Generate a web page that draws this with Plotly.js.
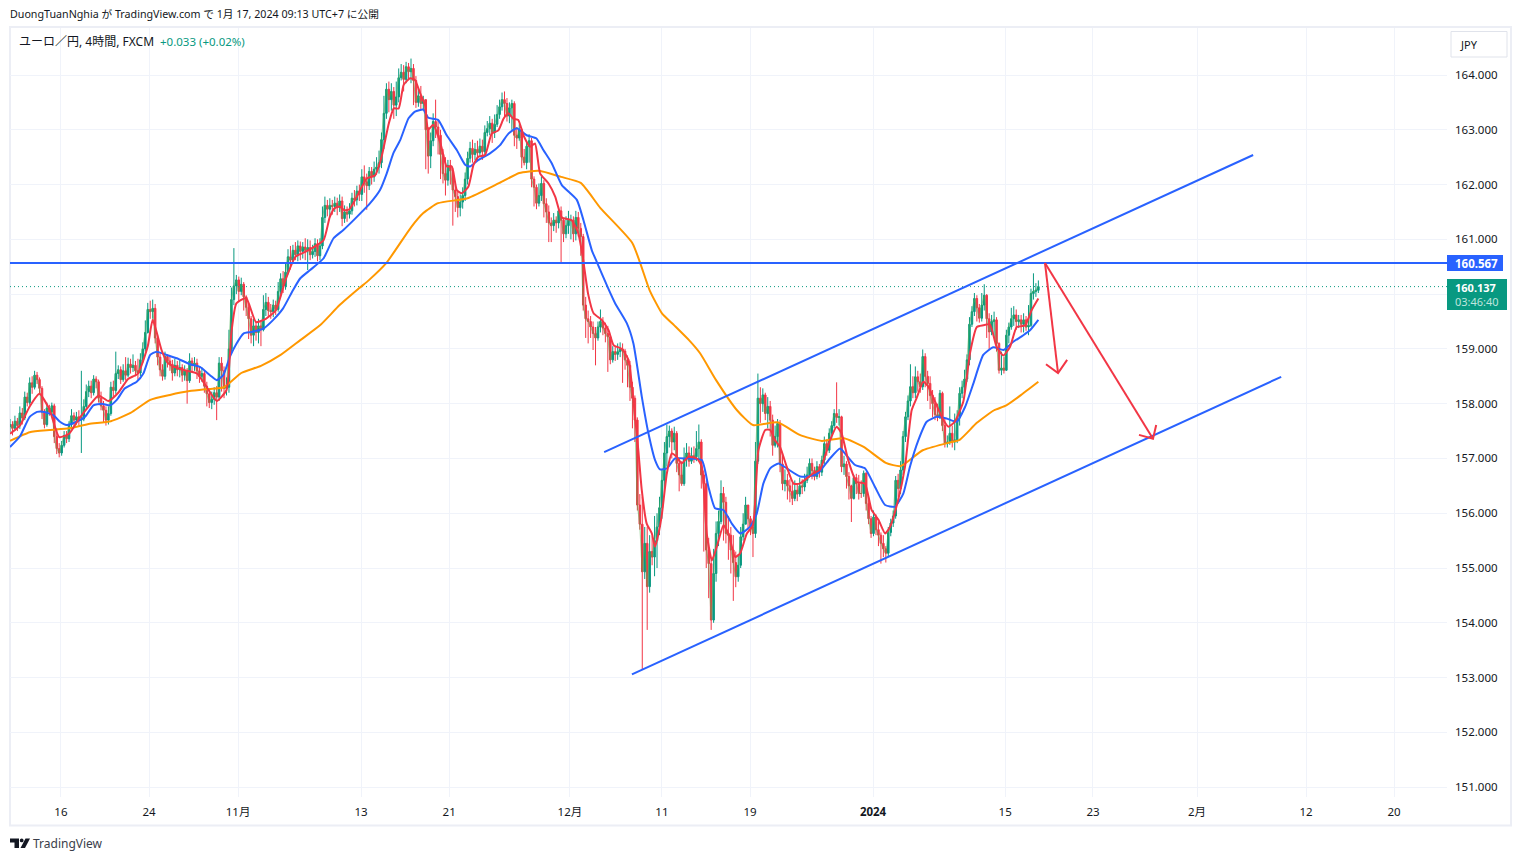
<!DOCTYPE html>
<html><head><meta charset="utf-8">
<script src="https://cdn.plot.ly/plotly-3.0.1.min.js"></script>
<style>html,body{margin:0;padding:0;background:#fff}#c{width:1521px;height:861px}</style></head>
<body><div id="c"></div>
<script>
const closes=[157.62,157.55,157.68,157.60,157.83,157.74,158.12,158.02,158.38,158.30,
158.52,158.44,158.28,157.85,157.62,157.92,157.85,157.96,157.40,157.18,
157.10,157.24,157.42,157.36,157.62,157.78,157.70,157.76,157.70,157.72,
157.95,158.22,158.32,158.20,158.45,158.40,158.10,157.96,157.88,157.70,
157.82,158.30,158.24,158.55,158.62,158.44,158.60,158.52,158.72,158.66,
158.70,158.60,158.56,158.80,159.00,159.30,159.72,159.68,159.74,159.20,
158.85,158.62,158.50,158.86,158.78,158.72,158.56,158.70,158.62,158.66,
158.52,158.60,158.42,158.78,158.70,158.74,158.60,158.50,158.55,158.32,
158.18,158.02,158.08,158.20,158.12,158.74,158.60,158.28,158.30,159.00,
159.90,160.15,160.26,160.05,160.18,159.95,159.76,159.55,159.25,159.42,
159.30,159.42,159.35,159.72,159.85,159.70,159.68,159.80,159.72,160.05,
160.28,160.15,160.40,160.68,160.62,160.80,160.72,160.88,160.78,160.86,
160.80,160.85,160.72,160.78,160.92,160.70,160.88,161.40,161.62,161.55,
161.62,161.60,161.66,161.58,161.70,161.38,161.50,161.46,161.52,161.75,
161.72,161.88,161.82,162.14,162.05,161.98,162.24,162.14,162.28,162.32,
162.40,162.82,163.30,163.74,163.55,163.70,163.45,163.60,163.95,164.05,
163.92,164.15,164.06,164.12,163.90,163.50,163.62,163.48,163.55,163.00,
162.52,162.80,163.15,163.05,162.90,162.55,162.20,162.08,162.35,162.25,
161.90,161.78,161.58,161.68,161.80,162.10,162.48,162.66,162.55,162.64,
162.58,162.70,162.60,162.95,163.02,163.12,162.95,163.10,163.28,163.42,
163.55,163.48,163.25,163.40,163.48,162.90,162.85,163.00,162.50,162.40,
162.70,162.80,162.10,161.95,161.66,161.80,162.02,161.65,161.50,161.30,
161.25,161.35,161.30,161.52,161.35,161.10,161.25,161.35,161.35,161.10,
161.40,161.20,161.05,159.80,159.55,159.50,159.40,159.28,159.20,159.40,
159.50,159.38,159.28,159.22,158.80,158.95,158.90,158.95,159.00,158.96,
158.80,158.70,158.30,158.10,157.70,156.15,155.80,154.93,155.45,154.66,
155.30,155.20,155.50,155.75,156.10,156.60,157.10,157.40,157.50,157.30,
157.46,156.91,156.70,156.54,157.00,157.10,156.95,157.05,157.03,157.18,
157.30,156.70,156.54,155.33,155.08,154.05,154.90,155.63,155.85,156.36,
156.20,155.63,155.60,155.33,155.10,154.84,155.05,155.57,155.80,156.15,
155.90,155.75,155.63,156.95,158.10,158.00,158.16,157.82,157.95,157.70,
157.24,157.40,157.64,156.90,156.54,156.60,156.50,156.40,156.27,156.42,
156.35,156.50,156.48,156.60,156.70,156.91,156.78,156.67,156.85,156.75,
156.97,157.27,157.15,157.46,157.60,157.82,157.75,157.76,156.85,156.90,
156.67,156.50,156.27,156.65,156.54,156.36,156.36,156.73,156.18,155.90,
155.63,155.93,155.70,155.60,155.45,155.35,155.27,155.65,155.82,155.95,
156.60,156.45,156.79,157.40,157.76,158.05,158.31,158.20,158.49,158.40,
158.31,158.86,158.50,158.37,158.15,158.00,157.80,157.76,158.19,157.60,
157.27,157.30,157.46,157.30,157.34,157.75,158.19,158.30,158.45,158.80,
159.45,159.68,159.92,159.75,159.56,159.80,159.98,159.55,159.31,159.50,
159.53,159.10,158.61,158.65,158.61,159.25,159.40,159.55,159.62,159.50,
159.53,159.45,159.53,159.40,159.43,160.01,160.05,160.07,160.137];
const opens=[157.58,157.62,157.55,157.68,157.60,157.83,157.74,158.12,158.02,158.38,
158.30,158.52,158.44,158.28,157.85,157.62,157.92,157.85,157.96,157.40,
157.18,157.10,157.24,157.42,157.36,157.62,157.78,157.70,157.76,157.70,
157.72,157.95,158.22,158.32,158.20,158.45,158.40,158.10,157.96,157.88,
157.70,157.82,158.30,158.24,158.55,158.62,158.44,158.60,158.52,158.72,
158.66,158.70,158.60,158.56,158.80,159.00,159.30,159.72,159.68,159.74,
159.20,158.85,158.62,158.50,158.86,158.78,158.72,158.56,158.70,158.62,
158.66,158.52,158.60,158.42,158.78,158.70,158.74,158.60,158.50,158.55,
158.32,158.18,158.02,158.08,158.20,158.12,158.74,158.60,158.28,158.30,
159.00,159.90,160.15,160.26,160.05,160.18,159.95,159.76,159.55,159.25,
159.42,159.30,159.42,159.35,159.72,159.85,159.70,159.68,159.80,159.72,
160.05,160.28,160.15,160.40,160.68,160.62,160.80,160.72,160.88,160.78,
160.86,160.80,160.85,160.72,160.78,160.92,160.70,160.88,161.40,161.62,
161.55,161.62,161.60,161.66,161.58,161.70,161.38,161.50,161.46,161.52,
161.75,161.72,161.88,161.82,162.14,162.05,161.98,162.24,162.14,162.28,
162.32,162.40,162.82,163.30,163.74,163.55,163.70,163.45,163.60,163.95,
164.05,163.92,164.15,164.06,164.12,163.90,163.50,163.62,163.48,163.55,
163.00,162.52,162.80,163.15,163.05,162.90,162.55,162.20,162.08,162.35,
162.25,161.90,161.78,161.58,161.68,161.80,162.10,162.48,162.66,162.55,
162.64,162.58,162.70,162.60,162.95,163.02,163.12,162.95,163.10,163.28,
163.42,163.55,163.48,163.25,163.40,163.48,162.90,162.85,163.00,162.50,
162.40,162.70,162.80,162.10,161.95,161.66,161.80,162.02,161.65,161.50,
161.30,161.25,161.35,161.30,161.52,161.35,161.10,161.25,161.35,161.35,
161.10,161.40,161.20,161.05,159.80,159.55,159.50,159.40,159.28,159.20,
159.40,159.50,159.38,159.28,159.22,158.80,158.95,158.90,158.95,159.00,
158.96,158.80,158.70,158.30,158.10,157.70,156.15,155.80,154.93,155.45,
154.66,155.30,155.20,155.50,155.75,156.10,156.60,157.10,157.40,157.50,
157.30,157.46,156.91,156.70,156.54,157.00,157.10,156.95,157.05,157.03,
157.18,157.30,156.70,156.54,155.33,155.08,154.05,154.90,155.63,155.85,
156.36,156.20,155.63,155.60,155.33,155.10,154.84,155.05,155.57,155.80,
156.15,155.90,155.75,155.63,156.95,158.10,158.00,158.16,157.82,157.95,
157.70,157.24,157.40,157.64,156.90,156.54,156.60,156.50,156.40,156.27,
156.42,156.35,156.50,156.48,156.60,156.70,156.91,156.78,156.67,156.85,
156.75,156.97,157.27,157.15,157.46,157.60,157.82,157.75,157.76,156.85,
156.90,156.67,156.50,156.27,156.65,156.54,156.36,156.36,156.73,156.18,
155.90,155.63,155.93,155.70,155.60,155.45,155.35,155.27,155.65,155.82,
155.95,156.60,156.45,156.79,157.40,157.76,158.05,158.31,158.20,158.49,
158.40,158.31,158.86,158.50,158.37,158.15,158.00,157.80,157.76,158.19,
157.60,157.27,157.30,157.46,157.30,157.34,157.75,158.19,158.30,158.45,
158.80,159.45,159.68,159.92,159.75,159.56,159.80,159.98,159.55,159.31,
159.50,159.53,159.10,158.61,158.65,158.61,159.25,159.40,159.55,159.62,
159.50,159.53,159.45,159.53,159.40,159.43,160.01,160.05,160.07];
const highs=[157.72,157.68,157.78,157.74,157.95,157.92,158.22,158.20,158.48,158.50,
158.60,158.58,158.48,158.32,157.90,158.02,157.98,158.02,158.00,157.55,
157.28,157.32,157.50,157.50,157.68,157.90,157.84,157.85,157.88,158.60,
158.08,158.35,158.42,158.42,158.52,158.50,158.44,158.22,158.05,157.95,
157.95,158.40,158.42,158.95,158.70,158.68,158.72,158.85,158.84,158.82,
158.90,158.78,158.82,158.92,159.12,159.52,159.84,159.88,159.90,159.82,
159.25,158.92,158.72,158.95,158.90,158.86,158.80,158.82,158.78,158.80,
158.72,158.70,158.65,158.92,158.84,158.85,158.82,158.68,158.66,158.60,
158.40,158.25,158.22,158.30,158.32,158.85,158.85,158.68,158.48,159.35,
160.12,160.84,160.35,160.32,160.30,160.22,159.98,159.82,159.60,159.55,
159.50,159.55,159.50,159.98,160.02,159.95,159.82,159.90,159.88,160.22,
160.38,160.42,160.55,160.82,160.88,160.90,160.95,160.98,160.96,160.95,
161.02,161.00,160.98,160.90,161.02,161.00,161.02,161.60,161.78,161.72,
161.75,161.72,161.78,161.76,161.82,161.78,161.62,161.60,161.66,161.85,
161.90,161.98,162.00,162.28,162.35,162.20,162.32,162.32,162.42,162.50,
162.62,162.95,163.62,163.85,163.88,163.85,163.78,163.88,164.12,164.20,
164.18,164.24,164.22,164.30,164.20,163.98,163.75,163.80,163.62,163.55,
163.05,162.95,163.30,163.55,163.18,163.00,162.65,162.50,162.45,162.45,
162.30,162.02,161.88,161.82,161.95,162.22,162.60,162.78,162.82,162.76,
162.80,162.84,162.82,163.08,163.16,163.25,163.20,163.28,163.45,163.55,
163.68,163.70,163.58,163.50,163.55,163.52,163.05,163.10,163.02,162.65,
162.78,162.92,162.85,162.15,162.00,162.02,162.15,162.08,161.75,161.62,
161.40,161.48,161.42,161.58,161.60,161.38,161.42,161.52,161.45,161.42,
161.52,161.50,161.30,161.10,159.95,159.70,159.60,159.50,159.40,159.50,
159.72,159.58,159.48,159.42,159.22,159.05,159.05,159.10,159.12,159.10,
159.00,158.88,158.78,158.40,158.15,157.75,156.35,156.30,155.75,155.75,
155.60,155.58,155.95,156.00,156.30,156.80,157.30,157.62,157.60,157.55,
157.58,157.50,157.00,156.95,157.20,157.28,157.22,157.20,157.22,157.50,
157.62,157.35,156.78,156.60,155.55,155.15,155.35,155.85,156.05,156.60,
156.48,156.30,155.95,155.75,155.60,155.30,155.25,155.75,156.00,156.30,
156.10,155.95,155.85,157.30,158.55,158.30,158.28,158.20,158.12,158.05,
157.80,157.60,157.72,157.70,157.05,156.80,156.72,156.62,156.55,156.60,
156.55,156.65,156.62,156.72,156.85,157.00,157.00,156.85,156.95,156.90,
157.05,157.40,157.35,157.55,157.68,157.90,158.39,157.90,157.78,157.05,
156.95,156.75,156.52,156.70,156.72,156.70,156.60,156.78,156.75,156.30,
155.95,156.05,155.98,155.85,155.65,155.60,155.40,155.75,155.90,156.05,
156.68,156.72,156.95,157.50,157.85,158.15,158.72,158.50,158.68,158.60,
158.55,158.99,158.92,158.60,158.50,158.25,158.12,158.00,158.25,158.22,
157.72,157.42,157.95,157.60,157.82,157.88,158.30,158.42,158.62,158.90,
159.58,159.78,160.02,159.98,159.82,160.02,160.18,160.00,159.65,159.62,
159.68,159.58,159.12,158.95,158.85,159.35,159.48,159.75,159.78,159.72,
159.62,159.62,159.65,159.60,159.80,160.10,160.38,160.20,160.25];
const lows=[157.48,157.42,157.50,157.50,157.54,157.62,157.70,157.95,157.98,158.18,
158.26,158.36,158.18,157.72,157.55,157.58,157.78,157.78,157.28,157.08,
157.02,157.05,157.20,157.28,157.30,157.55,157.58,157.62,157.60,157.10,
157.68,157.90,158.12,158.10,158.15,158.28,158.02,157.88,157.65,157.60,
157.62,157.78,158.12,158.18,158.45,158.36,158.40,158.42,158.48,158.55,
158.58,158.50,158.44,158.50,158.75,158.95,159.28,159.55,159.55,159.10,
158.70,158.50,158.42,158.44,158.66,158.60,158.42,158.50,158.50,158.48,
158.40,158.42,158.00,158.38,158.58,158.60,158.45,158.38,158.40,158.20,
157.95,157.92,157.90,157.98,157.70,158.05,158.22,158.10,158.15,158.20,
158.92,159.80,160.00,159.85,159.98,159.70,159.60,159.18,159.10,159.05,
159.15,159.10,159.05,159.32,159.60,159.58,159.55,159.58,159.62,159.68,
159.95,160.02,160.08,160.36,160.45,160.55,160.62,160.60,160.62,160.65,
160.62,160.44,160.62,160.65,160.68,160.60,160.62,160.82,161.30,161.42,
161.40,161.45,161.50,161.44,161.50,161.24,161.30,161.32,161.38,161.45,
161.60,161.62,161.70,161.70,161.85,161.54,161.90,162.00,162.05,162.18,
162.20,162.30,162.65,163.20,163.32,163.35,163.20,163.25,163.50,163.90,
163.70,163.85,163.92,163.85,163.45,163.40,163.42,163.38,163.35,162.28,
162.20,162.30,162.70,162.85,162.55,162.10,162.02,161.80,161.98,162.00,
161.25,161.50,161.40,161.42,161.56,161.70,162.00,162.40,162.40,162.45,
162.45,162.50,162.45,162.55,162.88,162.90,162.76,162.85,163.05,163.20,
163.35,163.22,163.15,163.12,163.00,162.70,162.65,162.80,162.30,162.35,
162.28,162.40,161.95,161.60,161.55,161.60,161.70,161.40,161.30,160.95,
160.95,161.15,161.12,161.20,160.56,160.95,161.02,161.10,161.00,160.95,
160.98,161.05,160.70,159.70,159.20,159.10,159.20,158.98,158.70,159.15,
159.30,159.25,159.12,158.58,158.72,158.75,158.78,158.80,158.85,158.38,
158.62,158.30,158.05,157.55,157.30,156.05,155.70,153.14,154.80,153.87,
154.55,155.05,154.85,155.00,155.60,155.90,156.45,156.85,157.20,157.00,
157.15,156.75,156.40,156.50,156.50,156.85,156.85,156.90,156.92,156.95,
156.95,156.45,155.30,155.00,154.45,153.87,154.00,154.75,155.40,155.80,
155.50,155.45,155.15,154.90,154.40,154.65,154.75,155.00,155.50,155.80,
155.70,155.60,155.20,155.55,156.90,157.65,157.85,157.70,157.55,157.40,
157.05,157.20,157.20,156.75,156.42,156.40,156.25,156.20,156.15,156.22,
156.22,156.30,156.35,156.40,156.55,156.65,156.62,156.60,156.62,156.65,
156.68,156.90,157.05,157.10,157.35,157.55,157.65,157.60,156.75,156.70,
156.45,156.25,155.84,156.25,156.35,156.25,156.28,156.30,156.05,155.80,
155.55,155.58,155.60,155.40,155.08,155.20,155.10,155.20,155.58,155.75,
155.90,156.30,156.35,156.70,157.30,157.70,157.95,158.10,158.10,158.22,
158.20,158.25,158.30,158.05,157.90,157.75,157.70,157.68,157.72,157.50,
157.20,157.20,157.25,157.20,157.15,157.28,157.60,158.10,158.20,158.40,
158.70,159.40,159.60,159.50,159.48,159.50,159.70,159.20,159.00,159.25,
159.20,158.95,158.55,158.52,158.55,158.60,159.10,159.35,159.42,159.35,
159.38,159.30,159.30,159.33,159.25,159.40,159.90,159.95,160.02];

const fastX=[0,4,8,12,16,20,24,28,32,36,40,44,48,52,56,58,61.6,64,68,72,76,80,84,88,90,92,96,100,104,108,112,116,120,127.4,130,132,134,136,138,141,145,148.4,151,154,156,158,160,162.6,164.6,166.7,168.7,170,172,175,177.5,179.6,181.6,183.6,186.3,188.4,190.4,193.1,195.8,198.5,200.6,202.6,204.6,206.6,208.7,211.4,213.4,215.5,218.9,221.6,224.3,228.3,231,232.8,235,237.2,240.5,243.3,245.3,248.7,251.4,253.4,255.4,256.8,258.8,260.9,262.2,263.6,265,267,269,271,273,275.8,279.2,281.2,283.2,285.3,287.3,290,292,294.8,296.8,299.5,302,304.2,307,309,311,313,315.7,318.5,321,326.5,329.2,333.3,336,338,340.7,344.1,347.5,350.2,353,355.7,357.7,361,363.8,366.5,368.5,371.2,373.3,376,378.7,381.4,384,387.5,390.2,393,395.6,398.3,401,403.8,406.5,409.2,412.6,415.3,418];
const fastY=[157.45,157.6,157.95,158.18,157.9,157.39,157.45,157.72,157.95,158.15,158.05,158.2,158.45,158.55,159.05,159.53,158.98,158.75,158.65,158.6,158.55,158.3,158.05,158.25,159.3,159.83,159.93,159.49,159.55,159.7,160.26,160.68,160.77,160.98,161.41,161.57,161.6,161.53,161.55,161.78,162.11,162.17,162.5,163.12,163.39,163.39,163.82,163.94,163.91,163.67,163.45,163,163.09,162.75,162.33,162.33,161.9,161.84,161.96,162.36,162.51,162.54,162.93,162.99,163.2,163.3,163.2,163.18,162.9,162.69,162.75,162.2,162.02,161.78,161.4,161.35,161.11,160.68,160.0,159.65,159.53,159.34,159.07,159.0,158.8,158.06,157.15,156.42,155.81,155.63,155.39,155.63,155.99,156.73,157.09,157.03,156.91,157.03,157.0,156.85,155.63,155.14,155.39,155.78,155.63,155.2,155.27,155.63,155.78,157.15,157.52,157.52,157.33,157.21,156.85,156.54,156.54,156.73,156.79,157.33,157.58,157.46,156.97,156.57,156.54,156.06,155.88,155.63,155.75,156.24,156.85,157.88,158.1,158.4,158.31,158.04,157.76,157.58,157.67,158.04,158.92,159.4,159.43,159.45,159.04,158.88,159.04,159.4,159.43,159.71,159.92];
const midX=[0,4,8,11,14,17.6,20.3,23,27,30.5,33.9,37.3,40.7,43.4,46.7,51.5,54.2,57,59.6,63.7,67.8,73.2,77.2,81.3,84,86.7,89.4,92.1,94.9,98.2,103,107,111,115,118,122,127.4,131.5,135.5,141,146.4,150.4,153.1,155.8,158.6,162,164.6,168,170,174,177.5,181.6,185,187,190.4,195.1,199.2,202.6,206,210,214,216.8,220.2,224.3,230.4,233.1,236.5,238.5,243.2,246,250.7,253.4,256.8,259.5,262.2,264.2,267,270.3,275,281.2,283.9,286.6,290,293.4,296.8,300.8,303.5,306.2,309,312.4,315.7,321.2,327.9,333.3,337.4,339.4,343.5,347.5,351.6,355.7,359.7,363.1,365.8,369.2,372.6,376.7,380.7,384.8,388.2,391.6,395.6,399.7,403.8,407.8,411.9,414.6,418];
const midY=[157.21,157.40,157.76,157.85,157.85,157.79,157.67,157.61,157.67,157.76,157.97,158.0,157.97,158.07,158.28,158.4,158.55,158.89,158.95,158.89,158.83,158.72,158.67,158.52,158.43,158.52,158.86,159.1,159.28,159.31,159.37,159.53,159.74,160.07,160.29,160.44,160.65,161.02,161.17,161.41,161.66,161.9,162.2,162.57,162.81,163.21,163.33,163.37,163.22,163.18,162.9,162.63,162.36,162.33,162.45,162.57,162.72,162.93,163.03,162.9,162.84,162.63,162.39,161.99,161.72,161.35,160.8,160.59,160.1,159.83,159.47,159.1,158.13,157.46,156.97,156.8,156.82,157.0,157.0,156.97,156.48,156.09,156.06,155.81,155.63,155.75,155.99,156.54,156.82,156.91,156.82,156.67,156.71,157.0,157.18,157.09,156.88,156.82,156.48,156.15,156.12,156.36,156.85,157.33,157.67,157.76,157.73,157.67,157.94,158.37,158.89,159.03,158.98,159.13,159.25,159.34,159.53];
const slowX=[0,8,16,24,32,41,49,57,65,73,81,87,94,102,110,118,126,134,142,146,153,163,168,174,186,199,207,215,224,232,240,253,260,265,270,276,280.5,287,295.5,302,312,321,330,339,347,356,362,371,381,386,393,400,405,411,418];
const slowY=[157.32,157.48,157.52,157.55,157.63,157.68,157.83,158.07,158.16,158.23,158.27,158.30,158.56,158.69,158.89,159.16,159.43,159.80,160.11,160.26,160.57,161.22,161.48,161.66,161.75,162.03,162.21,162.25,162.14,162.03,161.57,160.93,160.07,159.65,159.43,159.16,158.92,158.43,157.88,157.61,157.66,157.43,157.32,157.37,157.21,156.92,156.86,157.15,157.28,157.34,157.65,157.88,157.97,158.16,158.40];

const channelUpperX=[241.5,505.3], channelUpperY=[157.116,162.54];
const channelLowerX=[252.8,516.7], channelLowerY=[153.06,158.49];
const resistanceX=[0,584.1], resistanceY=[160.567,160.567];
const lastX=[0,584.1], lastY=[160.137,160.137];
const arrowLongX=[420.7,464.6], arrowLongY=[160.567,157.36];
const arrowLongHeadX=[458.9,464.6,465.9], arrowLongHeadY=[157.43,157.36,157.61];
const arrowShortX=[420.7,426], arrowShortY=[160.567,158.56];
const arrowShortHeadX=[421.1,426,429.7], arrowShortHeadY=[158.72,158.56,158.8];

const monthTickVals=[20.7,56.5,92.7,142.7,178.5,227.6,265,300.8,350.8,404.5,440.2,482.5,526.8,562.6];
const monthTickText=['16','24','11月','13','21','12月','11','19','<b>2024</b>','15','23','2月','12','20'];
const priceTicks=[151,152,153,154,155,156,157,158,159,160,161,162,163,164];
const priceLabels=priceTicks.map(v=>v.toFixed(3));
const bars=closes.map((_,i)=>i);

const INK='#131722',GREEN='#089981',RED='#f23645',BLUE='#2962ff',ORANGE='#ff9800',GRID='#f0f3fa';
const FONT="'Noto Sans','Noto Sans CJK JP',sans-serif";
const L=10,R=1447,T=28,B=797;
const px=x=>(x-L)/(R-L), py=y=>(B-y)/(B-T);
const ln=(x,y,color,width,dash)=>({type:'scatter',mode:'lines',x,y,hoverinfo:'skip',line:{color,width,dash:dash||'solid'}});
const smooth=(x,y,color,width)=>({type:'scatter',mode:'lines',x,y,hoverinfo:'skip',line:{color,width,shape:'spline',smoothing:0.5}});

const traces=[
 {type:'candlestick',x:bars,open:opens,high:highs,low:lows,close:closes,whiskerwidth:0,hoverinfo:'skip',
  increasing:{line:{color:GREEN,width:1},fillcolor:GREEN},decreasing:{line:{color:RED,width:1},fillcolor:RED}},
 ln(lastX,lastY,GREEN,1,'1px,3px'),
 ln(bars,closes,'rgba(76,175,80,0.5)',1.2),
 smooth(slowX,slowY,ORANGE,2),
 smooth(midX,midY,BLUE,2),
 smooth(fastX,fastY,RED,2),
 ln(resistanceX,resistanceY,BLUE,2),
 ln(channelUpperX,channelUpperY,BLUE,2),
 ln(channelLowerX,channelLowerY,BLUE,2),
 ln(arrowLongX,arrowLongY,RED,2),
 ln(arrowLongHeadX,arrowLongHeadY,RED,2),
 ln(arrowShortX,arrowShortY,RED,2),
 ln(arrowShortHeadX,arrowShortHeadY,RED,2)
];

const note=(x,y,text,o)=>Object.assign({xref:'paper',yref:'paper',x:px(x),y:py(y),text,showarrow:false,xanchor:'left',yanchor:'middle',borderpad:0,
  font:{family:FONT,size:10.7,color:INK}},o||{});
const rect=(x0,y0,x1,y1,o)=>Object.assign({type:'rect',xref:'paper',yref:'paper',x0:px(x0),x1:px(x1),y0:py(y0),y1:py(y1),line:{width:0}},o);
const pathOf=pts=>'M'+pts.map(p=>px(p[0])+','+py(p[1])).join('L')+'Z';
const poly=(pts)=>({type:'path',xref:'paper',yref:'paper',path:pathOf(pts),fillcolor:INK,line:{width:0}});

const layout={
 width:1521,height:861,showlegend:false,hovermode:false,boxgap:0.12,
 paper_bgcolor:'#ffffff',plot_bgcolor:'#ffffff',
 margin:{l:L,r:1521-R,t:T,b:861-B,pad:0},
 font:{family:FONT,color:INK,size:11.5},
 xaxis:{type:'linear',range:[0,584.1],tickmode:'array',tickvals:monthTickVals,ticktext:monthTickText,showgrid:true,gridcolor:GRID,gridwidth:1,
   zeroline:false,showline:false,ticks:'',ticklabelstandoff:6,rangeslider:{visible:false},tickfont:{family:FONT,size:11.5,color:INK}},
 yaxis:{type:'linear',side:'right',range:[150.82,164.858],tickmode:'array',tickvals:priceTicks,ticktext:priceLabels,showgrid:true,gridcolor:GRID,gridwidth:1,
   zeroline:false,showline:false,ticks:'',ticklabelstandoff:7,tickfont:{family:FONT,size:11.5,color:INK}},
 shapes:[
  rect(10,27,1511,825.5,{line:{color:'#eceef5',width:2},fillcolor:'rgba(0,0,0,0)',layer:'below'}),
  rect(1451,31.5,1507,57,{line:{color:'#e0e3eb',width:1},fillcolor:'#ffffff'}),
  rect(1447,255,1503,271,{fillcolor:BLUE}),
  rect(1447,279,1507,310,{fillcolor:GREEN}),
  poly([[10,838.5],[19,838.5],[19,848],[14.5,848],[14.5,842.5],[10,842.5]]),
  {type:'circle',xref:'paper',yref:'paper',x0:px(19.8),x1:px(23.6),y0:py(838.5),y1:py(842.3),fillcolor:INK,line:{width:0}},
  poly([[25.5,838.5],[30,838.5],[25,848],[20.5,848]])
 ],
 annotations:[
  note(9,14.5,'DuongTuanNghia が TradingView.com で 1月 17, 2024 09:13 UTC+7 に公開'),
  note(18,41.5,'ユーロ／円, 4時間, FXCM',{font:{family:FONT,size:12,color:INK}}),
  note(159,41.5,'+0.033 (+0.02%)',{font:{family:FONT,size:11.5,color:GREEN}}),
  note(1459,44.5,'JPY',{font:{family:FONT,size:11,color:INK}}),
  note(1454,263.5,'<b>160.567</b>',{font:{family:FONT,size:11.5,color:'#ffffff'}}),
  note(1454,294.5,'<b>160.137</b><br><span style="color:#bfe5de">03:46:40</span>',{align:'left',font:{family:FONT,size:11,color:'#ffffff'}}),
  note(32,843.5,'TradingView',{font:{family:FONT,size:12,color:'#3a3e4a'}})
 ]
};
Plotly.newPlot('c',traces,layout,{displayModeBar:false,staticPlot:true});
</script></body></html>
